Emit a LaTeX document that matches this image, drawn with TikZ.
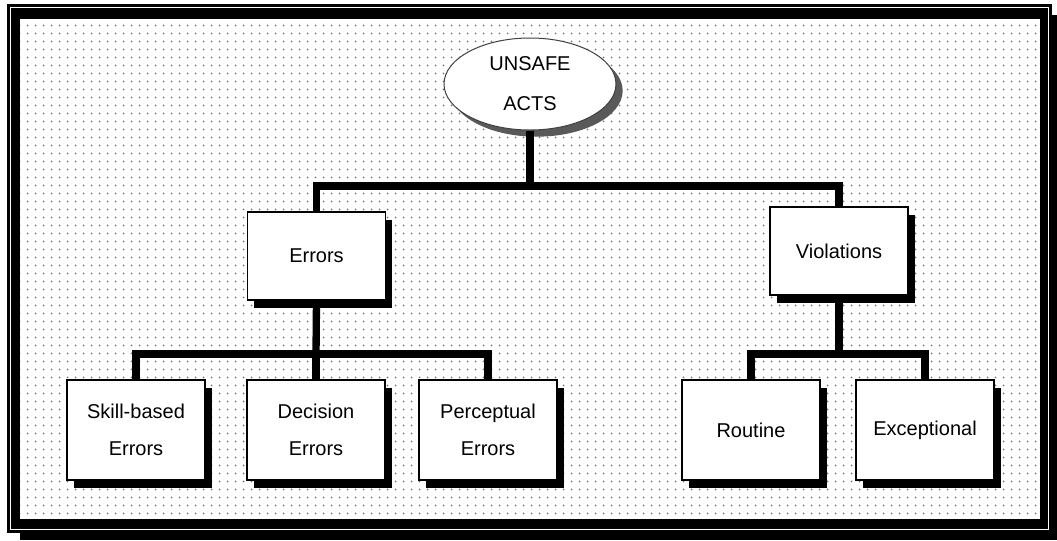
\documentclass[tikz,border=0pt]{standalone}
\usepackage{fontspec}
\setmainfont{Liberation Sans}
\usetikzlibrary{shapes.geometric,shadows,patterns.meta}

\tikzdeclarepattern{
  name=stipple,
  type=uncolored,
  bounding box={(0pt,0pt) and (6pt,6pt)},
  tile size={(6pt,6pt)},
  code={\fill (3pt,3pt) circle (0.8pt);}
}

\tikzset{every picture/.style={line width=0.75pt}}

\begin{document}
\begin{tikzpicture}[x=0.75pt,y=0.75pt,yscale=-1,xscale=1,
  box/.style={draw=black, line width=1pt, fill=white, align=center,
    minimum width=103.5pt, minimum height=66pt,
    font=\fontsize{15}{28}\selectfont,
    drop shadow={shadow xshift=5pt, shadow yshift=-6pt, fill=black, opacity=1}},
  lowbox/.style={box, minimum height=75pt},
  conn/.style={draw=black, line width=5.5pt}]
\useasboundingbox (0,0) rectangle (1057,540);

%Frame with shadow
\fill [black] (20,15) rectangle (1057,540);
\fill [black] (7,4) rectangle (1052,533);
\draw [white, line width=0.9pt] (10.5,7.5) rectangle (1048.5,529.5);
\fill [white] (20,19) rectangle (1040,519);
\fill [pattern=stipple, pattern color=black!55] (20,19) rectangle (1040,519);

% Top node
\node [ellipse, draw=black!75, line width=0.75pt, fill=white, align=center,
  minimum width=129pt, minimum height=69pt,
  font=\fontsize{15}{30}\selectfont,
  drop shadow={shadow xshift=5pt, shadow yshift=-5pt, fill=black!65, opacity=1}]
  (acts) at (530,84) {UNSAFE\\ACTS};

% Second level
\node [box] (errors) at (316.5,256) {Errors};
\node [box] (violations) at (839,251) {Violations};

% Third level
\node [lowbox] (skill) at (136,430) {Skill-based\\Errors};
\node [lowbox] (decision) at (316,430) {Decision\\Errors};
\node [lowbox] (perceptual) at (488,430) {Perceptual\\Errors};
\node [lowbox] (routine) at (751,430) {Routine};
\node [lowbox] (exceptional) at (925,430) {Exceptional};

% Junctions
\coordinate (topjoin) at (530,186);
\coordinate (errjoin) at (316,354);
\coordinate (viojoin) at (839,354);

% Connectors
\draw [conn] (acts.south) -- (topjoin);
\draw [conn] (errors.north) |- (topjoin) -| (violations.north);
\draw [conn] (errors.south) -- (errjoin);
\draw [conn] (skill.north) |- (errjoin) -| (perceptual.north);
\draw [conn] (decision.north) -- (errjoin);
\draw [conn] (violations.south) -- (viojoin);
\draw [conn] (routine.north) |- (viojoin) -| (exceptional.north);

\end{tikzpicture}
\end{document}
